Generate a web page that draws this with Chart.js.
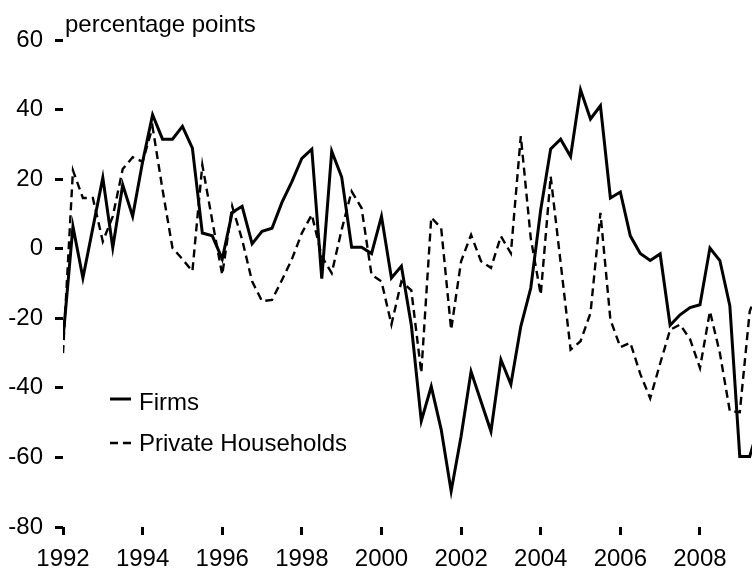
<!DOCTYPE html>
<html><head><meta charset="utf-8">
<style>html,body{margin:0;padding:0;background:#fff;overflow:hidden}#wrap{width:752px;height:577px}</style>
<script src="https://cdn.jsdelivr.net/npm/chart.js@4.4.1/dist/chart.umd.min.js"></script>
</head><body><div id="wrap"><canvas id="c" width="752" height="577"></canvas></div>
<script>
const quarters = [
 '1992Q1','1992Q2','1992Q3','1992Q4','1993Q1','1993Q2','1993Q3','1993Q4','1994Q1','1994Q2',
 '1994Q3','1994Q4','1995Q1','1995Q2','1995Q3','1995Q4','1996Q1','1996Q2','1996Q3','1996Q4',
 '1997Q1','1997Q2','1997Q3','1997Q4','1998Q1','1998Q2','1998Q3','1998Q4','1999Q1','1999Q2',
 '1999Q3','1999Q4','2000Q1','2000Q2','2000Q3','2000Q4','2001Q1','2001Q2','2001Q3','2001Q4',
 '2002Q1','2002Q2','2002Q3','2002Q4','2003Q1','2003Q2','2003Q3','2003Q4','2004Q1','2004Q2',
 '2004Q3','2004Q4','2005Q1','2005Q2','2005Q3','2005Q4','2006Q1','2006Q2','2006Q3','2006Q4',
 '2007Q1','2007Q2','2007Q3','2007Q4','2008Q1','2008Q2','2008Q3','2008Q4','2009Q1','2009Q2',
 '2009Q3'];
const firms = [
 -26, 6.4, -8.4, 6, 20.4, 0.3, 18.4, 9.3, 25, 38.5,
 31.5, 31.5, 35.2, 28.9, 4.5, 3.7, -3, 10.4, 12.2, 1.4,
 5, 5.9, 13.3, 19.3, 26, 28.6, -8.6, 28, 20.6, 0.4,
 0.4, -1.4, 9.3, -8.4, -5, -22, -49.5, -39.6, -52, -69.7,
 -53.9, -35.3, -43.9, -52.5, -31.9, -39, -22.3, -11.3, 11.2, 28.7,
 31.5, 26.5, 45.7, 37.3, 41.1, 14.6, 16.3, 3.7, -1.4, -3.4,
 -1.5, -22, -19, -16.9, -16.1, 0.2, -3.4, -16.4, -59.7, -59.7,
 -50];
const households = [
 -30, 22.5, 14.6, 14.6, 2.1, 9.3, 22.9, 26.3, 25, 35,
 17, 0.2, -3, -6.5, 24.1, 8, -7.5, 12.2, 2.6, -9.4,
 -15.1, -14.7, -9, -3, 4.5, 9.8, -2.2, -7, 5.5, 16.5,
 11.7, -7.5, -9.4, -21.8, -9.4, -12, -35.7, 9, 5.9, -23.3,
 -3.6, 4, -3.6, -5.5, 3.6, -1.3, 32.4, 3, -13.2, 20.8,
 -4, -29, -26.6, -18.5, 10.3, -20.4, -28.3, -27, -36, -43,
 -33, -23.3, -21.8, -26, -34.3, -18, -30, -46.7, -47, -18,
 -10];
const yearTicks = [1992, 1994, 1996, 1998, 2000, 2002, 2004, 2006, 2008];
const yearLabels = ['1992','1994','1996','1998','2000','2002','2004','2006','2008'];
const valueTicks = [60, 40, 20, 0, -20, -40, -60, -80];
const valueLabels = ['60','40','20','0','-20','-40','-60','-80'];
const seriesNames = ['Firms', 'Private Households'];
const unitLabel = 'percentage points';

const FAMILY = '"Liberation Sans", Arial, sans-serif';

function qx(q) { return parseInt(q.slice(0, 4), 10) + (parseInt(q.slice(5), 10) - 1) / 4; }

const overlay = {
  id: 'overlay',
  afterDraw(chart) {
    const ctx = chart.ctx;
    ctx.save();
    ctx.fillStyle = '#000';
    ctx.textBaseline = 'alphabetic';
    ctx.textAlign = 'left';
    ctx.font = '24px ' + FAMILY;
    ctx.fillText(unitLabel, 65, 32);
    const rows = [{y: 399, base: 410}, {y: 443, base: 451}];
    chart.data.datasets.forEach((ds, i) => {
      const r = rows[i];
      ctx.strokeStyle = ds.borderColor;
      ctx.lineWidth = ds.borderWidth;
      ctx.setLineDash(ds.borderDash || []);
      ctx.beginPath();
      ctx.moveTo(110, r.y);
      ctx.lineTo(131, r.y);
      ctx.stroke();
      ctx.setLineDash([]);
      ctx.font = '24px ' + FAMILY;
      ctx.fillText(ds.label, 139, r.base);
    });
    ctx.restore();
  }
};

const tickFont = {family: FAMILY, size: 24};

new Chart(document.getElementById('c'), {
  type: 'line',
  data: {
    datasets: [
      {label: seriesNames[0], data: quarters.map((q, i) => ({x: qx(q), y: firms[i]})),
       borderColor: '#000', borderWidth: 3, pointRadius: 0, tension: 0, fill: false},
      {label: seriesNames[1], data: quarters.map((q, i) => ({x: qx(q), y: households[i]})),
       borderColor: '#000', borderWidth: 2.4, borderDash: [8, 5], pointRadius: 0, tension: 0, fill: false}
    ]
  },
  options: {
    responsive: false,
    animation: false,
    devicePixelRatio: 1,
    layout: {padding: {top: 40, right: 0, bottom: 0, left: 0}},
    plugins: {legend: {display: false}, tooltip: {enabled: false}},
    scales: {
      x: {
        type: 'linear', min: 1992, max: 2009.307,
        afterBuildTicks: s => { s.ticks = yearTicks.map(v => ({value: v})); },
        afterFit: s => { s.height = 50; },
        ticks: {callback: (v) => yearLabels[yearTicks.indexOf(v)], font: tickFont, color: '#000',
                padding: 10, maxRotation: 0, autoSkip: false, includeBounds: false},
        grid: {display: true, drawOnChartArea: false, drawTicks: true, tickLength: 8, tickWidth: 3, tickColor: '#000'},
        border: {display: false}
      },
      y: {
        min: -80, max: 60,
        afterBuildTicks: s => { s.ticks = valueTicks.map(v => ({value: v})); },
        afterFit: s => { s.width = 63; },
        ticks: {callback: (v) => valueLabels[valueTicks.indexOf(v)], font: tickFont, color: '#000', padding: 12},
        grid: {display: true, drawOnChartArea: false, drawTicks: true, tickLength: 8, tickWidth: 3, tickColor: '#000'},
        border: {display: false}
      }
    }
  },
  plugins: [overlay]
});
</script></body></html>
